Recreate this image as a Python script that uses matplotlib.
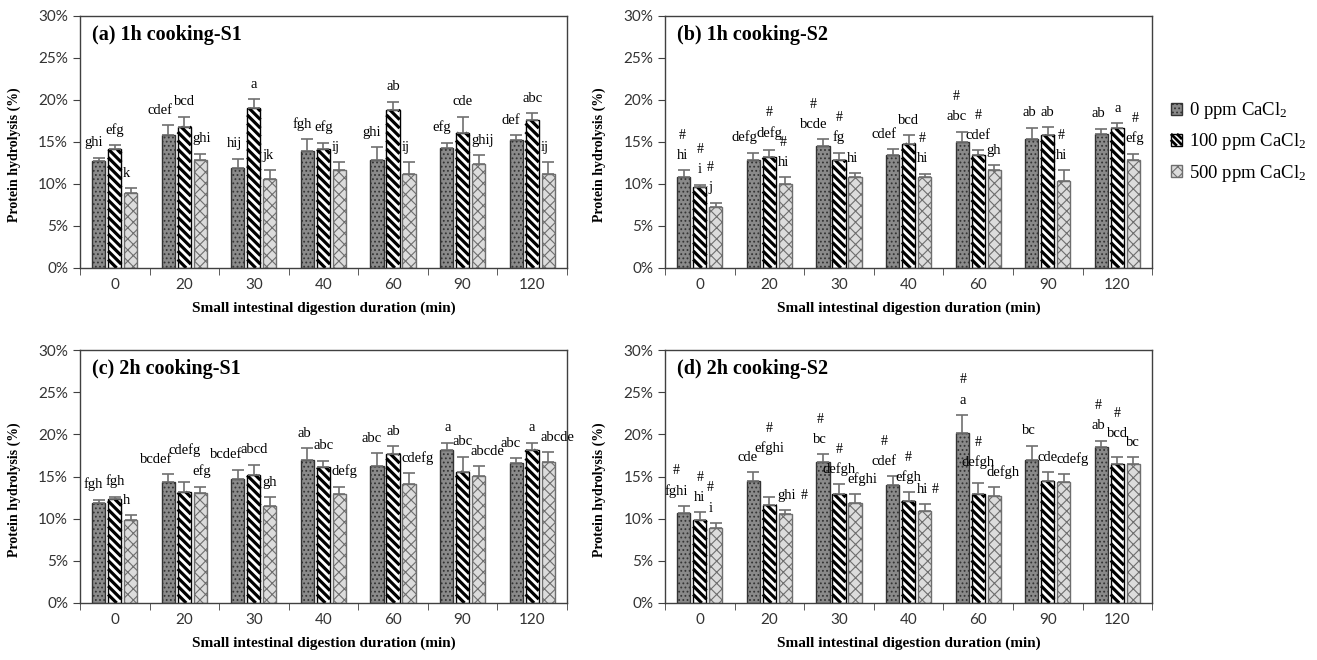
import numpy as np
import matplotlib
matplotlib.use("Agg")
import matplotlib.pyplot as plt
from matplotlib.patches import Patch
from matplotlib.collections import LineCollection
from matplotlib.transforms import Bbox, IdentityTransform

plt.rcParams["font.family"] = ["Liberation Serif", "DejaVu Serif"]
plt.rcParams["mathtext.default"] = "regular"
plt.rcParams["hatch.linewidth"] = 0.8

# x categories (small intestinal digestion duration, min)
times = ["0", "20", "30", "40", "60", "90", "120"]
series_names = [r"0 ppm CaCl$_2$", r"100 ppm CaCl$_2$", r"500 ppm CaCl$_2$"]

# (a) 1h cooking-S1
a_vals = [[12.7, 15.8, 11.9, 13.9, 12.9, 14.3, 15.2],
          [14.1, 16.8, 19.0, 14.1, 18.8, 16.1, 17.6],
          [8.9, 12.9, 10.6, 11.7, 11.2, 12.4, 11.2]]
a_err = [[0.4, 1.2, 1.1, 1.4, 1.5, 0.6, 0.6],
         [0.5, 1.2, 1.1, 0.8, 1.0, 1.9, 0.8],
         [0.6, 0.7, 1.0, 0.9, 1.4, 1.0, 1.4]]
a_lab = [["ghi", "cdef", "hij", "fgh", "ghi", "efg", "def"],
         ["efg", "bcd", "a", "efg", "ab", "cde", "abc"],
         ["k", "ghi", "jk", "ij", "ij", "ghij", "ij"]]
a_hash = [[0] * 7, [0] * 7, [0] * 7]

# (b) 1h cooking-S2
b_vals = [[10.8, 12.9, 14.5, 13.5, 15.0, 15.3, 15.9],
          [9.6, 13.2, 12.8, 14.8, 13.5, 15.8, 16.6],
          [7.2, 10.0, 10.8, 10.8, 11.7, 10.3, 12.8]]
b_err = [[0.8, 0.8, 0.8, 0.6, 1.2, 1.4, 0.65],
         [0.3, 0.8, 0.9, 1.0, 0.5, 0.95, 0.65],
         [0.55, 0.8, 0.45, 0.4, 0.5, 1.3, 0.8]]
b_lab = [["hi", "defg", "bcde", "cdef", "abc", "ab", "ab"],
         ["i", "defg", "fg", "bcd", "cdef", "ab", "a"],
         ["j", "hi", "hi", "hi", "gh", "hi", "efg"]]
b_hash = [[1, 0, 1, 0, 1, 0, 0],
          [1, 1, 1, 0, 1, 0, 0],
          [1, 1, 0, 1, 0, 1, 1]]

# (c) 2h cooking-S1
c_vals = [[11.9, 14.3, 14.7, 17.0, 16.3, 18.2, 16.6],
          [12.3, 13.2, 15.2, 16.1, 17.7, 15.6, 18.2],
          [9.8, 13.1, 11.5, 12.9, 14.1, 15.1, 16.7]]
c_err = [[0.35, 1.0, 1.1, 1.4, 1.5, 0.8, 0.6],
         [0.3, 1.2, 1.2, 0.8, 0.9, 1.75, 0.8],
         [0.6, 0.7, 1.05, 0.9, 1.3, 1.1, 1.2]]
c_lab = [["fgh", "bcdef", "bcdef", "ab", "abc", "a", "abc"],
         ["fgh", "cdefg", "abcd", "abc", "ab", "abc", "a"],
         ["h", "efg", "gh", "defg", "cdefg", "abcde", "abcde"]]
c_hash = [[0] * 7, [0] * 7, [0] * 7]

# (d) 2h cooking-S2
d_vals = [[10.7, 14.5, 16.7, 14.0, 20.2, 17.0, 18.5],
          [9.8, 11.6, 12.9, 12.1, 12.9, 14.5, 16.5],
          [8.9, 10.6, 11.9, 10.9, 12.7, 14.4, 16.5]]
d_err = [[0.8, 1.0, 0.95, 1.05, 2.1, 1.65, 0.75],
         [0.95, 0.95, 1.2, 1.05, 1.3, 1.05, 0.8],
         [0.6, 0.4, 1.0, 0.8, 1.05, 0.9, 0.8]]
d_lab = [["fghi", "cde", "bc", "cdef", "a", "bc", "ab"],
         ["hi", "efghi", "defgh", "efgh", "defgh", "cde", "bcd"],
         ["i", "ghi", "efghi", "hi", "defgh", "cdefg", "bc"]]
# 1 = '#' above the letters, 2 = '#' to the right of the letters
d_hash = [[1, 0, 1, 1, 1, 0, 1],
          [1, 1, 1, 1, 1, 0, 1],
          [1, 2, 0, 2, 0, 0, 0]]

panels = [
    ("(a) 1h cooking-S1", a_vals, a_err, a_lab, a_hash),
    ("(b) 1h cooking-S2", b_vals, b_err, b_lab, b_hash),
    ("(c) 2h cooking-S1", c_vals, c_err, c_lab, c_hash),
    ("(d) 2h cooking-S2", d_vals, d_err, d_lab, d_hash),
]

styles = [
    dict(facecolor="#8a8a8a", edgecolor="#333333", hatch="...."),
    dict(facecolor="white", edgecolor="black"),
    dict(facecolor="#dcdcdc", edgecolor="#6e6e6e", hatch="xxx"),
]

fig = plt.figure(figsize=(13.17, 6.6), dpi=100)
renderer = fig.canvas.get_renderer()
positions = [
    [0.0607, 0.594, 0.3698, 0.382],
    [0.505, 0.594, 0.3698, 0.382],
    [0.0607, 0.0864, 0.3698, 0.383],
    [0.505, 0.0864, 0.3698, 0.383],
]

x = np.arange(len(times))
offsets = [-0.23, 0.0, 0.23]
width = 0.19
lab_fs = 10.5


def stripes(bb, period=8.5, lw=2.3):
    # bold "\" stripes inside a box given in pixels
    x0, x1, y0, y1 = bb.x0, bb.x1, bb.y0, bb.y1
    segs = []
    c = x0 + y0
    while c < x1 + y1 + period:
        xa, xb = max(x0, c - y1), min(x1, c - y0)
        if xa < xb:
            segs.append([(xa, c - xa), (xb, c - xb)])
        c += period
    return LineCollection(segs, colors="black", linewidths=lw,
                          transform=IdentityTransform(), capstyle="butt")


def overlaps(b, o, tx=1, ty=3):
    return (b.x0 + tx < o.x1 - tx and b.x1 - tx > o.x0 + tx
            and b.y0 + ty < o.y1 - ty and b.y1 - ty > o.y0 + ty)


for (title, vals, errs, labs, hashes), pos in zip(panels, positions):
    ax = fig.add_axes(pos)
    ax.set_xlim(-0.5, len(times) - 0.5)
    ax.set_ylim(0, 30)
    for k in range(3):
        bars = ax.bar(x + offsets[k], vals[k], width, linewidth=1.0,
                      zorder=2, **styles[k])
        if k == 1:
            for b in bars:
                lc = stripes(b.get_window_extent(renderer))
                lc.set_clip_path(b)
                lc.set_zorder(2.5)
                ax.add_collection(lc, autolim=False)
        ax.errorbar(x + offsets[k], vals[k],
                    yerr=[np.zeros(len(times)), errs[k]],
                    fmt="none", ecolor="#707070", elinewidth=1.2, capsize=4,
                    capthick=1.2, zorder=3)
    ax.set_xlim(-0.5, len(times) - 0.5)
    ax.set_ylim(0, 30)
    px_per_unit = ax.bbox.height / 30.0

    # significance letters: bar1 right-aligned, bar2 centred, bar3 left-aligned;
    # the middle label is lifted when it would run into its neighbours
    for i in range(len(times)):
        placed = []
        for k in (0, 2, 1):
            xc = x[i] + offsets[k]
            top = vals[k][i] + errs[k][i] + 1.0
            if k == 0:
                xt, ha = xc + 0.06, "right"
            elif k == 1:
                xt, ha = xc, "center"
            else:
                xt, ha = xc - 0.11, "left"
            t = ax.text(xt, top, labs[k][i], ha=ha, va="bottom", fontsize=lab_fs)
            group = [t]
            bb = t.get_window_extent(renderer)
            cx = ax.transData.inverted().transform(((bb.x0 + bb.x1) / 2, 0))[0]
            if hashes[k][i] == 1:
                group.append(ax.text(cx, top + 2.4, "#", ha="center",
                                     va="bottom", fontsize=lab_fs - 0.5))
            elif hashes[k][i] == 2:
                rx = ax.transData.inverted().transform((bb.x1 + 4, 0))[0]
                group.append(ax.text(rx, top, "#", ha="left", va="bottom",
                                     fontsize=lab_fs - 0.5))
            for _ in range(6):
                gb = Bbox.union([g.get_window_extent(renderer) for g in group])
                hits = [o for o in placed if overlaps(gb, o)]
                if not hits:
                    break
                dy = max(o.y1 - gb.y0 for o in hits) - 4
                for g in group:
                    gx, gy = g.get_position()
                    g.set_y(gy + dy / px_per_unit)
            placed.append(Bbox.union([g.get_window_extent(renderer) for g in group]))

    ax.set_yticks(np.arange(0, 31, 5))
    ax.set_yticklabels([f"{v}%" for v in range(0, 31, 5)],
                       fontfamily="Lato", fontsize=11, color="#333333")
    ax.set_xticks(x)
    ax.set_xticklabels(times, fontfamily="Lato", fontsize=11, color="#333333")
    ax.set_xticks(np.arange(-0.5, len(times), 1.0), minor=True)
    ax.tick_params(axis="x", which="major", length=0, pad=7)
    ax.tick_params(axis="x", which="minor", length=5, direction="out",
                   color="#404040")
    ax.tick_params(axis="y", length=5, direction="out", color="#404040")
    for s in ax.spines.values():
        s.set_color("#404040")
        s.set_linewidth(1.0)

    ax.set_ylabel("Protein hydrolysis (%)", fontweight="bold", fontsize=10)
    ax.yaxis.set_label_coords(-0.122, 0.45)
    ax.set_xlabel("Small intestinal digestion duration (min)", fontweight="bold",
                  fontsize=11, labelpad=7)
    ax.text(0.025, 0.925, title, transform=ax.transAxes, fontweight="bold",
            fontsize=14.5, va="center", ha="left")

handles = [Patch(linewidth=1.0, **styles[k]) for k in range(3)]
leg = fig.legend(handles, series_names, loc="center left",
                 bbox_to_anchor=(0.889, 1 - 142 / 660), frameon=False,
                 fontsize=13.5, handlelength=0.6, handleheight=0.6,
                 handletextpad=0.35, labelspacing=0.55, borderpad=0,
                 borderaxespad=0)
fig.canvas.draw()
key = stripes(leg.get_patches()[1].get_window_extent(renderer), period=6, lw=2.0)
key.set_zorder(6)
fig.add_artist(key)

fig.savefig("out.png", dpi=100)
